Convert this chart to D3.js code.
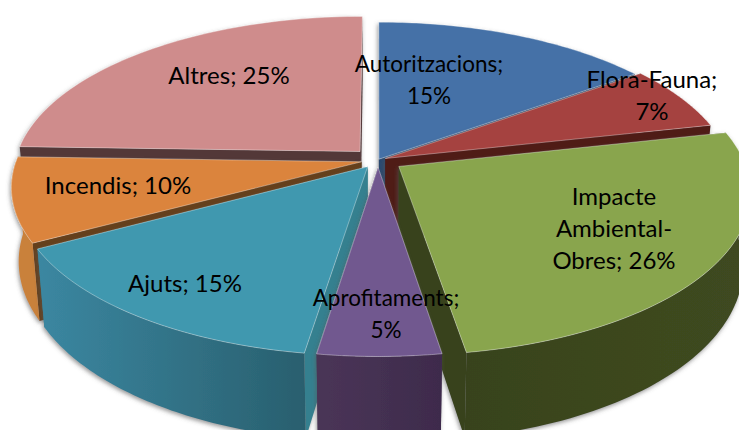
<!DOCTYPE html>
<html>
<head>
<meta charset="utf-8">
<script src="https://cdn.jsdelivr.net/npm/d3@7"></script>
<style>
  html, body { margin: 0; padding: 0; background: #fff; }
  svg { display: block; }
  .label { font-family: Lato, "Open Sans", sans-serif; fill: #000; text-anchor: middle; }
</style>
</head>
<body>
<div id="chart"></div>
<script>
const categories = ["Autoritzacions", "Flora-Fauna", "Impacte Ambiental-Obres", "Aprofitaments", "Ajuts", "Incendis", "Altres"];
// printed on the labels (they add up to 103)
const printedPct = [15, 7, 26, 5, 15, 10, 25];
const shares = [15, 6.5, 26, 4.9, 14.7, 8.4, 24.5];

// how the label text wraps
const labelLines = [
  ["Autoritzacions;", "15%"],
  ["Flora-Fauna;", "7%"],
  ["Impacte", "Ambiental-", "Obres; 26%"],
  ["Aprofitaments;", "5%"],
  ["Ajuts; 15%"],
  ["Incendis; 10%"],
  ["Altres; 25%"]
];
const labelAt = [[429, 72], [652, 88], [614, 205], [386, 306], [185, 292], [118, 194], [229, 84]];
const labelSize = [22.5, 24, 24, 22.5, 24, 24, 24];

const topColors = ["#4571a7", "#a5423f", "#89a54e", "#71588f", "#4198af", "#db843d", "#cf8c8c"];
const cutColors = ["#2b4a70", "#4f1a18", "#38431d", "#453254", "#35808f", "#653f1c", "#523738"];
const wallLeft = ["#2b4a70", "#5f2523", "#38431d", "#4a3557", "#3b87a1", "#c9813a", "#7a5352"];
const wallRight = ["#2b4a70", "#5f2523", "#3f4a20", "#3e2b4c", "#295f6e", "#c9813a", "#7a5352"];
const explode = [2, 8, 25, 16, 18, 17, 26];

const width = 739, height = 430;
const cx = 378, cy = 160, R = 345;
const tilt = 158, wallH = 72, persp = 6.6;

const xScale = d3.scaleLinear().domain([-1, 1]).range([cx - R, cx + R]);
const yScale = d3.scaleLinear().domain([-1, 1]).range([cy - tilt, cy + tilt]);

const svg = d3.select("#chart").append("svg").attr("width", width).attr("height", height);
const defs = svg.append("defs");

const shadow = defs.append("filter").attr("id", "shadow")
  .attr("x", "-5%").attr("y", "-5%").attr("width", "110%").attr("height", "110%");
shadow.append("feDropShadow")
  .attr("dx", -1).attr("dy", 2).attr("stdDeviation", 2)
  .attr("flood-color", "#555").attr("flood-opacity", 0.6);

const pie = d3.pie().sort(null).startAngle(0).endAngle(2 * Math.PI);
const arcs = pie(shares);

// ground plane -> screen, z = 0 on the top face, 1 on the bottom face
function project(angle, r, d, z) {
  const mid = (d.startAngle + d.endAngle) / 2;
  const e = explode[d.index] / R;
  const u = r * Math.sin(angle) + e * Math.sin(mid);
  const v = -(r * Math.cos(angle) + e * Math.cos(mid));
  const s = persp / (persp - v);
  return [xScale(u * s * (1 - 0.02 * z)), yScale(v * s) + wallH * s * z];
}

const line = d3.line();

function rim(d, z, from = d.startAngle, to = d.endAngle) {
  const n = 60;
  return d3.range(n + 1).map((i) => project(from + (to - from) * i / n, 1, d, z));
}

function cutFace(d, angle) {
  return [project(0, 0, d, 0), project(angle, 1, d, 0), project(angle, 1, d, 1), project(0, 0, d, 1)];
}

// outer wall, only the part facing the viewer
function wallPath(d) {
  const from = Math.max(d.startAngle, Math.PI / 2);
  const to = Math.min(d.endAngle, 3 * Math.PI / 2);
  if (from >= to) return null;
  return line(rim(d, 0, from, to).concat(rim(d, 1, from, to).reverse())) + "Z";
}

// wall gradients
arcs.forEach((d) => {
  const g = defs.append("linearGradient").attr("id", "wall-" + d.index);
  g.append("stop").attr("offset", "0%").attr("stop-color", wallLeft[d.index]);
  g.append("stop").attr("offset", "100%").attr("stop-color", wallRight[d.index]);
});

// back to front
const drawOrder = [6, 0, 1, 5, 2, 4, 3];

const slices = svg.selectAll("g.slice")
  .data(drawOrder.map((i) => arcs[i]))
  .enter()
  .append("g")
  .attr("class", "slice")
  .attr("filter", "url(#shadow)");

// cut faces first so the outer wall hides the ones turned away
slices.append("path")
  .attr("d", (d) => line(cutFace(d, d.startAngle)) + "Z")
  .attr("fill", (d) => cutColors[d.index]);

slices.append("path")
  .attr("d", (d) => line(cutFace(d, d.endAngle)) + "Z")
  .attr("fill", (d) => cutColors[d.index]);

slices.append("path")
  .attr("d", wallPath)
  .attr("fill", (d) => `url(#wall-${d.index})`);

slices.append("path")
  .attr("d", (d) => line([project(0, 0, d, 0)].concat(rim(d, 0))) + "Z")
  .attr("fill", (d) => topColors[d.index])
  .attr("stroke", "#fff")
  .attr("stroke-opacity", 0.45)
  .attr("stroke-width", 0.8);

// labels
const labels = svg.selectAll("text.label")
  .data(categories)
  .enter()
  .append("text")
  .attr("class", "label")
  .style("font-size", (d, i) => labelSize[i] + "px");

labels.selectAll("tspan")
  .data((d, i) => labelLines[i].map((t) => ({ t, i })))
  .enter()
  .append("tspan")
  .attr("x", (d) => labelAt[d.i][0])
  .attr("y", (d, j) => labelAt[d.i][1] + j * 32)
  .text((d) => d.t);
</script>
</body>
</html>
